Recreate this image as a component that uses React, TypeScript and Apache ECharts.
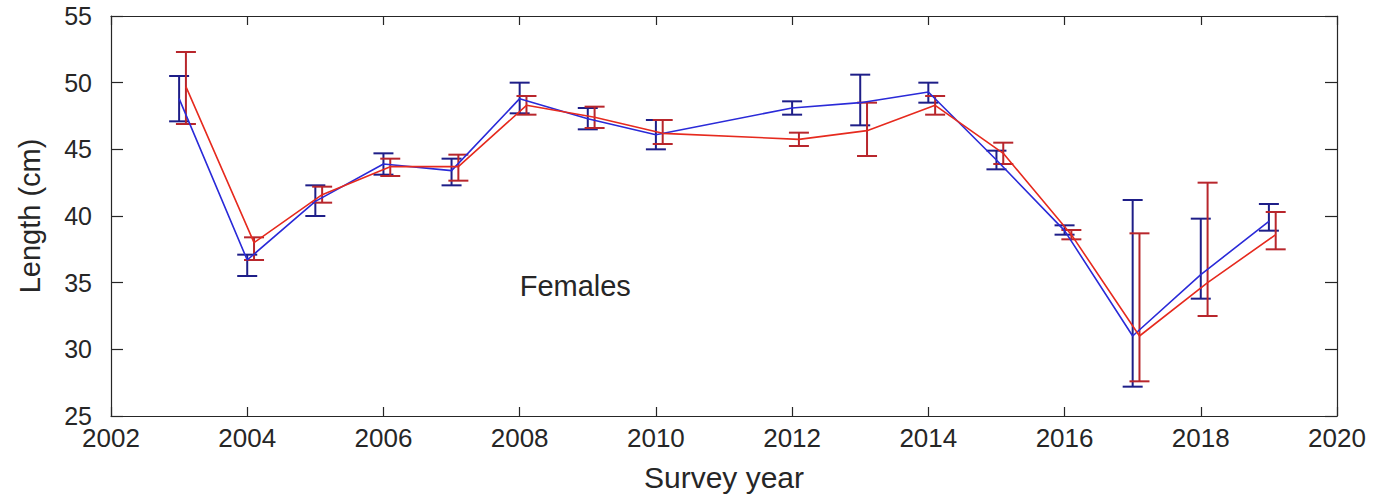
import React, { useEffect, useRef } from "react";
import * as echarts from "echarts";

// Survey years with measurements (no survey in 2011)
const years = [2003, 2004, 2005, 2006, 2007, 2008, 2009, 2010, 2012, 2013, 2014, 2015, 2016, 2017, 2018, 2019];

// Blue series: mean length and interval bounds (cm)
const blueMean = [48.8, 36.7, 41.1, 43.9, 43.4, 48.8, 47.3, 46.1, 48.1, 48.5, 49.3, 44.2, 38.9, 31.0, 35.6, 39.6];
const blueLow = [47.1, 35.5, 40.0, 43.1, 42.3, 47.7, 46.5, 45.0, 47.6, 46.8, 48.5, 43.5, 38.6, 27.2, 33.8, 38.9];
const blueHigh = [50.5, 37.1, 42.3, 44.7, 44.3, 50.0, 48.1, 47.2, 48.6, 50.6, 50.0, 44.9, 39.3, 41.2, 39.8, 40.9];

// Red series: mean length and interval bounds (cm)
const redMean = [49.7, 38.0, 41.6, 43.7, 43.7, 48.3, 47.4, 46.2, 45.75, 46.4, 48.3, 44.7, 38.6, 31.0, 35.0, 38.6];
const redLow = [46.9, 36.7, 41.0, 43.0, 42.65, 47.6, 46.6, 45.4, 45.25, 44.5, 47.6, 43.9, 38.25, 27.6, 32.5, 37.5];
const redHigh = [52.3, 38.4, 42.2, 44.3, 44.6, 49.0, 48.2, 47.2, 46.25, 48.5, 49.0, 45.5, 38.95, 38.7, 42.5, 40.3];

// Horizontal dodge of the red series so the bars don't overlap
const RED_DODGE = 0.1;

const X_MIN = 2002;
const X_MAX = 2020;
const X_STEP = 2;
const Y_MIN = 25;
const Y_MAX = 55;
const Y_STEP = 5;

const ANNOTATION_TEXT = "Females";
const ANNOTATION_POS = [2008.0, 34.75];

const FONT = "'Liberation Sans', Arial, Helvetica, sans-serif";
const INK = "#262626";

const BLUE_LINE = "#2a2ad8";
const BLUE_BAR = "#1e1e88";
const RED_LINE = "#e62a1e";
const RED_BAR = "#b8262c";

function errorBarSeries(name: string, xs: number[], lo: number[], hi: number[], color: string) {
  return {
    name,
    type: "custom",
    xAxisIndex: 0,
    yAxisIndex: 0,
    z: 3,
    data: xs.map((x, i) => [x, lo[i], hi[i]]),
    renderItem: (params: any, api: any) => {
      const x = api.value(0);
      const low = api.coord([x, api.value(1)]);
      const high = api.coord([x, api.value(2)]);
      const half = 10;
      const style = { stroke: color, lineWidth: 2 };
      return {
        type: "group",
        children: [
          { type: "line", shape: { x1: low[0], y1: low[1], x2: high[0], y2: high[1] }, style },
          { type: "line", shape: { x1: high[0] - half, y1: high[1], x2: high[0] + half, y2: high[1] }, style },
          { type: "line", shape: { x1: low[0] - half, y1: low[1], x2: low[0] + half, y2: low[1] }, style },
        ],
      };
    },
  };
}

export default function App() {
  const ref = useRef<HTMLDivElement>(null);

  useEffect(() => {
    document.body.style.margin = "0";
    if (!ref.current) return;
    const chart = echarts.init(ref.current, undefined, { renderer: "svg" });

    const redX = years.map((y) => y + RED_DODGE);

    const axisLine = { show: true, onZero: false, lineStyle: { color: INK, width: 1.2 } };
    const xTick = { show: true, inside: true, length: 9, lineStyle: { color: INK, width: 1.2 } };
    const yTick = { show: true, inside: true, length: 12, lineStyle: { color: INK, width: 1.2 } };

    chart.setOption({
      animation: false,
      backgroundColor: "#ffffff",
      textStyle: { fontFamily: FONT },
      grid: { left: 111, right: 41, top: 16, bottom: 85, containLabel: false },
      xAxis: [
        {
          type: "value",
          min: X_MIN,
          max: X_MAX,
          interval: X_STEP,
          position: "bottom",
          axisLine,
          axisTick: xTick,
          splitLine: { show: false },
          axisLabel: {
            color: INK,
            fontSize: 26,
            lineHeight: 24,
            fontFamily: FONT,
            margin: 10,
            formatter: (v: number) => String(v),
          },
          name: "Survey year",
          nameLocation: "middle",
          nameGap: 46,
          nameTextStyle: { color: INK, fontSize: 30, fontFamily: FONT },
        },
        {
          type: "value",
          min: X_MIN,
          max: X_MAX,
          interval: X_STEP,
          position: "top",
          axisLine,
          axisTick: xTick,
          splitLine: { show: false },
          axisLabel: { show: false },
        },
      ],
      yAxis: [
        {
          type: "value",
          min: Y_MIN,
          max: Y_MAX,
          interval: Y_STEP,
          position: "left",
          axisLine,
          axisTick: yTick,
          splitLine: { show: false },
          axisLabel: { color: INK, fontSize: 25, lineHeight: 19, fontFamily: FONT, margin: 19 },
          name: "Length (cm)",
          nameLocation: "middle",
          nameGap: 67,
          nameTextStyle: { color: INK, fontSize: 29, fontFamily: FONT },
        },
        {
          type: "value",
          min: Y_MIN,
          max: Y_MAX,
          interval: Y_STEP,
          position: "right",
          axisLine,
          axisTick: yTick,
          splitLine: { show: false },
          axisLabel: { show: false },
        },
      ],
      series: [
        {
          name: "Blue mean",
          type: "line",
          xAxisIndex: 0,
          yAxisIndex: 0,
          symbol: "none",
          z: 4,
          lineStyle: { color: BLUE_LINE, width: 1.6 },
          data: years.map((y, i) => [y, blueMean[i]]),
        },
        {
          name: "Red mean",
          type: "line",
          xAxisIndex: 0,
          yAxisIndex: 0,
          symbol: "none",
          z: 4,
          lineStyle: { color: RED_LINE, width: 1.6 },
          data: redX.map((x, i) => [x, redMean[i]]),
        },
        errorBarSeries("Blue interval", years, blueLow, blueHigh, BLUE_BAR),
        errorBarSeries("Red interval", redX, redLow, redHigh, RED_BAR),
      ],
    });

    const p = chart.convertToPixel({ xAxisIndex: 0, yAxisIndex: 0 }, ANNOTATION_POS) as number[];
    chart.setOption({
      graphic: [
        {
          type: "text",
          x: p[0],
          y: p[1],
          style: {
            text: ANNOTATION_TEXT,
            fill: INK,
            font: `29px ${FONT}`,
            textAlign: "left",
            textVerticalAlign: "middle",
          },
        },
      ],
    });

    return () => chart.dispose();
  }, []);

  return <div ref={ref} style={{ width: 1378, height: 501 }} />;
}
